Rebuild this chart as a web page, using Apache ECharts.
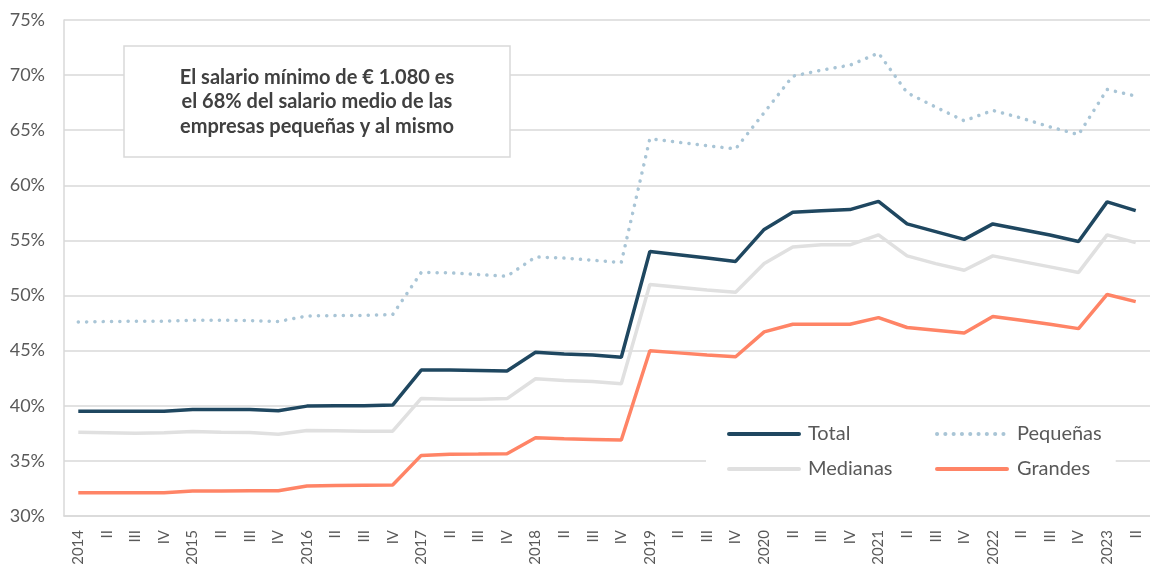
<!DOCTYPE html>
<html>
<head>
<meta charset="utf-8">
<script src="https://cdn.jsdelivr.net/npm/echarts@6/dist/echarts.min.js"></script>
<style>
  html, body { margin: 0; padding: 0; background: #fff; }
  #chart { width: 1150px; height: 569px; }
</style>
</head>
<body>
<div id="chart"></div>
<script>
const years = ["2014", "2015", "2016", "2017", "2018", "2019", "2020", "2021", "2022", "2023"];
const quarters = ["", "II", "III", "IV"];
const categories = [];
years.forEach((y) => {
  quarters.forEach((q) => {
    categories.push(q === "" ? y : q);
  });
});
categories.length = 38; // up to 2023 II

const total = [
  39.5, 39.5, 39.5, 39.5, 39.67, 39.67, 39.67, 39.55,
  39.97, 40.0, 40.0, 40.06, 43.24, 43.24, 43.2, 43.15,
  44.85, 44.7, 44.6, 44.4, 54.0, 53.7, 53.4, 53.1,
  56.0, 57.55, 57.7, 57.8, 58.55, 56.5, 55.8, 55.1,
  56.5, 56.0, 55.5, 54.9, 58.5, 57.7,
];
const pequenas = [
  47.6, 47.64, 47.67, 47.67, 47.76, 47.76, 47.73, 47.64,
  48.15, 48.18, 48.2, 48.27, 52.1, 52.06, 51.9, 51.75,
  53.5, 53.4, 53.2, 53.0, 64.24, 63.9, 63.6, 63.3,
  66.6, 69.9, 70.45, 70.9, 72.0, 68.4, 67.1, 65.85,
  66.8, 66.1, 65.3, 64.6, 68.7, 68.1,
];
const medianas = [
  37.6, 37.55, 37.5, 37.55, 37.67, 37.6, 37.58, 37.42,
  37.76, 37.73, 37.7, 37.7, 40.67, 40.6, 40.6, 40.65,
  42.45, 42.3, 42.2, 42.0, 51.0, 50.75, 50.5, 50.3,
  52.9, 54.4, 54.6, 54.6, 55.5, 53.6, 52.9, 52.3,
  53.6, 53.1, 52.6, 52.1, 55.5, 54.8,
];
const grandes = [
  32.12, 32.1, 32.1, 32.12, 32.27, 32.27, 32.3, 32.3,
  32.73, 32.76, 32.79, 32.82, 35.5, 35.6, 35.62, 35.65,
  37.1, 37.0, 36.95, 36.9, 45.0, 44.8, 44.6, 44.45,
  46.7, 47.4, 47.4, 47.4, 48.0, 47.1, 46.85, 46.6,
  48.1, 47.75, 47.4, 47.0, 50.1, 49.45,
];

const noteLines = [
  "El salario mínimo de € 1.080 es",
  "el 68% del salario medio de las",
  "empresas pequeñas y al mismo",
];

const font = "Lato, 'Open Sans', sans-serif";
const textColor = "#595959";
const gridColor = "#d9d9d9";

var chartDom = document.getElementById("chart");
var myChart = echarts.init(chartDom, null, { renderer: "canvas" });

const legendBase = {
  orient: "vertical",
  top: 414,
  itemWidth: 70,
  itemHeight: 14,
  itemGap: 15,
  backgroundColor: "#fff",
  itemStyle: { opacity: 0 },
  lineStyle: { width: 4, cap: "round" },
};

var option = {
  animation: false,
  backgroundColor: "#fff",
  textStyle: { fontFamily: font },
  grid: {
    left: 64,
    right: -8,
    top: 20,
    bottom: 53,
  },
  legend: [
    Object.assign({}, legendBase, {
      data: ["Total", "Medianas"],
      left: 706,
      padding: [10, 30, 10, 21],
      textStyle: { color: textColor, fontSize: 20, fontFamily: font, padding: [0, 0, 0, 4] },
    }),
    Object.assign({}, legendBase, {
      data: ["Pequeñas", "Grandes"],
      left: 900,
      padding: [10, 14, 10, 35],
      textStyle: { color: textColor, fontSize: 20, fontFamily: font, padding: [0, 0, 0, 5] },
    }),
  ],
  xAxis: {
    type: "category",
    data: categories,
    boundaryGap: true,
    axisLine: { lineStyle: { color: gridColor, width: 1.5 } },
    axisTick: { show: false },
    axisLabel: {
      interval: 0,
      rotate: 90,
      margin: 14,
      color: textColor,
      fontSize: 15,
      fontFamily: font,
    },
  },
  yAxis: {
    type: "value",
    min: 30,
    max: 75,
    interval: 5,
    axisLine: { show: true, lineStyle: { color: gridColor, width: 1.5 } },
    axisTick: { show: false },
    splitLine: { lineStyle: { color: gridColor, width: 1.5 } },
    axisLabel: {
      margin: 19,
      color: textColor,
      fontSize: 18,
      fontFamily: font,
      formatter: "{value}%",
    },
  },
  graphic: [
    {
      type: "rect",
      z: 100,
      shape: { x: 124, y: 46, width: 386, height: 111 },
      style: { fill: "#fff", stroke: gridColor, lineWidth: 1.5 },
    },
    {
      type: "text",
      z: 101,
      x: 317,
      y: 102,
      style: {
        text: noteLines.join("\n"),
        fill: "#404040",
        font: "bold 20px " + font,
        lineHeight: 24.5,
        align: "center",
        verticalAlign: "middle",
      },
    },
  ],
  series: [
    {
      name: "Total",
      type: "line",
      data: total,
      symbol: "none",
      z: 4,
      lineStyle: { color: "#1f4760", width: 3.5 },
      itemStyle: { color: "#1f4760" },
    },
    {
      name: "Pequeñas",
      type: "line",
      data: pequenas,
      symbol: "none",
      z: 3,
      lineStyle: { color: "#a9c5d6", width: 3.5, type: [0.1, 8.2], cap: "round" },
      itemStyle: { color: "#a9c5d6" },
    },
    {
      name: "Medianas",
      type: "line",
      data: medianas,
      symbol: "none",
      z: 2,
      lineStyle: { color: "#e0e0e0", width: 3.5 },
      itemStyle: { color: "#e0e0e0" },
    },
    {
      name: "Grandes",
      type: "line",
      data: grandes,
      symbol: "none",
      z: 3,
      lineStyle: { color: "#ff8466", width: 3.5 },
      itemStyle: { color: "#ff8466" },
    },
  ],
};

myChart.setOption(option);

window.addEventListener("resize", function() {
  myChart.resize();
});
</script>
</body>
</html>
